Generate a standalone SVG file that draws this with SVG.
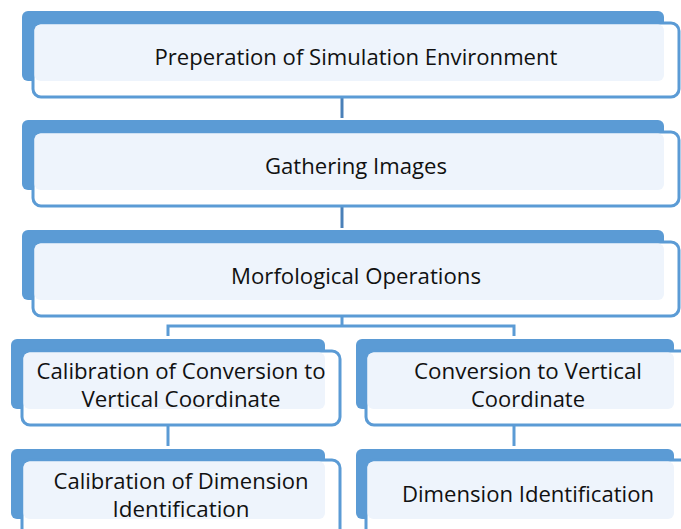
<svg xmlns="http://www.w3.org/2000/svg" width="681" height="529" viewBox="0 0 681 529">
<style>
.back{fill:#5b9bd5}
.front{fill:#ffffff;stroke:#5b9bd5;stroke-width:3}
.light{fill:#eef4fc}
.conn{stroke:#5b9bd5;stroke-width:3;fill:none}
.t{font-family:"Open Sans","Noto Sans",sans-serif;font-size:22.5px;fill:#111;text-anchor:middle}
</style>
<rect width="681" height="529" fill="#ffffff"/>
<g id="connectors">
<line class="conn" x1="342" y1="97" x2="342" y2="118" style="stroke:#4a80b8"/>
<line class="conn" x1="342" y1="206" x2="342" y2="228" style="stroke:#4a80b8"/>
<polyline class="conn" points="342,316 342,326"/>
<polyline class="conn" points="168,336 168,326 514,326 514,336"/>
<line class="conn" x1="168" y1="425" x2="168" y2="446"/>
<line class="conn" x1="514" y1="425" x2="514" y2="446"/>
</g>
<g id="n1">
<rect class="back" x="22" y="11" width="642" height="70" rx="6"/>
<rect class="front" x="33" y="23" width="646" height="74" rx="8"/>
<rect class="light" x="34.5" y="24.5" width="629.5" height="56.5" rx="6"/>
<text class="t" x="356" y="65" textLength="403" lengthAdjust="spacingAndGlyphs">Preperation of Simulation Environment</text>
</g>
<g id="n2">
<rect class="back" x="22" y="120" width="642" height="70" rx="6"/>
<rect class="front" x="33" y="132" width="646" height="74" rx="8"/>
<rect class="light" x="34.5" y="133.5" width="629.5" height="56.5" rx="6"/>
<text class="t" x="356" y="174" textLength="182" lengthAdjust="spacingAndGlyphs">Gathering Images</text>
</g>
<g id="n3">
<rect class="back" x="22" y="230" width="642" height="70" rx="6"/>
<rect class="front" x="33" y="242" width="646" height="74" rx="8"/>
<rect class="light" x="34.5" y="243.5" width="629.5" height="56.5" rx="6"/>
<text class="t" x="356" y="284" textLength="250" lengthAdjust="spacingAndGlyphs">Morfological Operations</text>
</g>
<g id="n4">
<rect class="back" x="11" y="339" width="314" height="70" rx="6"/>
<rect class="front" x="22" y="351" width="318" height="74" rx="8"/>
<rect class="light" x="23.5" y="352.5" width="301.5" height="56.5" rx="6"/>
<text class="t" x="181" y="379" textLength="289" lengthAdjust="spacingAndGlyphs">Calibration of Conversion to</text>
<text class="t" x="181" y="407" textLength="199" lengthAdjust="spacingAndGlyphs">Vertical Coordinate</text>
</g>
<g id="n5">
<rect class="back" x="356" y="339" width="318" height="70" rx="6"/>
<rect class="front" x="366" y="351" width="330" height="74" rx="8"/>
<rect class="light" x="367.5" y="352.5" width="306.5" height="56.5" rx="6"/>
<text class="t" x="528" y="379" textLength="228" lengthAdjust="spacingAndGlyphs">Conversion to Vertical</text>
<text class="t" x="528" y="407" textLength="114" lengthAdjust="spacingAndGlyphs">Coordinate</text>
</g>
<g id="n6">
<rect class="back" x="11" y="449" width="314" height="70" rx="6"/>
<rect class="front" x="22" y="460" width="318" height="90" rx="8"/>
<rect class="light" x="23.5" y="461.5" width="301.5" height="57.5" rx="6"/>
<text class="t" x="181" y="489" textLength="255" lengthAdjust="spacingAndGlyphs">Calibration of Dimension</text>
<text class="t" x="181" y="517" textLength="137" lengthAdjust="spacingAndGlyphs">Identification</text>
</g>
<g id="n7">
<rect class="back" x="356" y="449" width="318" height="70" rx="6"/>
<rect class="front" x="366" y="460" width="330" height="90" rx="8"/>
<rect class="light" x="367.5" y="461.5" width="306.5" height="57.5" rx="6"/>
<text class="t" x="528" y="502" textLength="252" lengthAdjust="spacingAndGlyphs">Dimension Identification</text>
</g>
</svg>
